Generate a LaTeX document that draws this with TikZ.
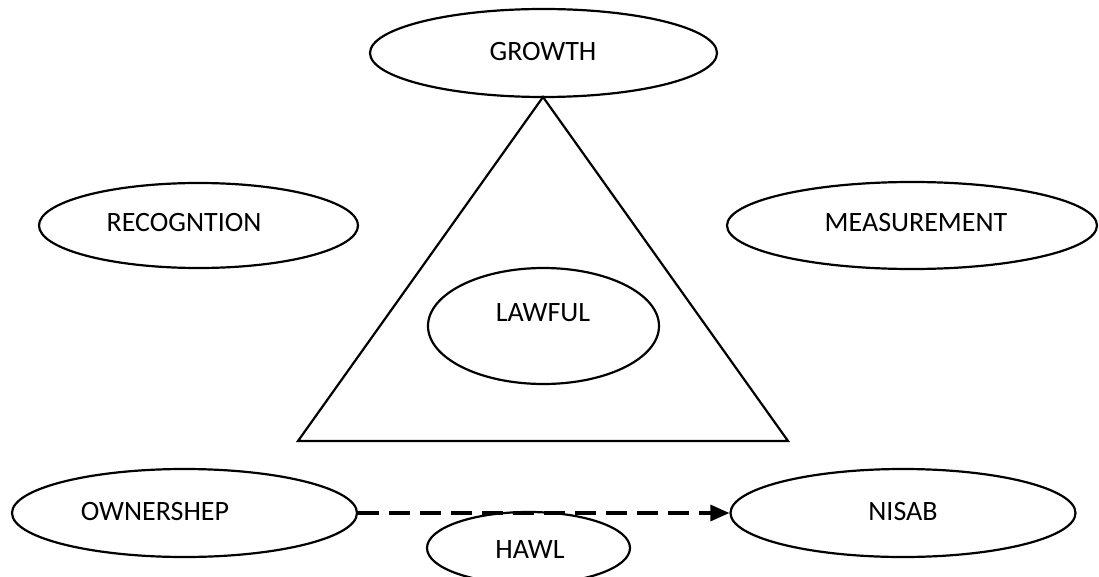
\documentclass[tikz,border=0pt]{standalone}
\usepackage{fontspec}
\setmainfont{Carlito}
\usetikzlibrary{shapes.geometric,arrows.meta}
\tikzset{
  oval/.style={draw=black, line width=2.2pt, ellipse, inner sep=0pt},
  lbl/.style={inner sep=0pt, font=\fontsize{28}{32}\selectfont, text=black},
  tri/.style={draw=black, line width=2.2pt, line join=miter},
  dasharrow/.style={draw=black, line width=3.2pt, dash pattern=on 21pt off 10pt, -{Triangle[length=19pt,width=16pt]}}
}
\begin{document}
\begin{tikzpicture}[x=1pt,y=-1pt]
\clip (0,0) rectangle (1099,577);
\fill[white] (0,0) rectangle (1099,577);
% triangle
\coordinate (apex) at (543,97);
\coordinate (bl) at (298,441);
\coordinate (br) at (788,441);
\draw[tri] (apex) -- (bl) -- (br) -- cycle;
% ellipses
\node[oval, minimum width=347pt, minimum height=88pt] (growth) at (543.5,53) {};
\node[lbl] (growthT) at (543,52) {GROWTH};
\node[oval, minimum width=319pt, minimum height=85pt] (recog) at (198.5,225.5) {};
\node[lbl] (recogT) at (184,223) {RECOGNTION};
\node[oval, minimum width=370pt, minimum height=87pt] (meas) at (912,225.5) {};
\node[lbl] (measT) at (916,223) {MEASUREMENT};
\node[oval, minimum width=231pt, minimum height=116pt] (lawful) at (543.5,326) {};
\node[lbl] (lawfulT) at (543,313) {LAWFUL};
\node[oval, minimum width=345pt, minimum height=88pt] (own) at (184.5,513) {};
\node[lbl] (ownT) at (155,512) {OWNERSHEP};
\node[oval, minimum width=345pt, minimum height=88pt] (nisab) at (903,513) {};
\node[lbl] (nisabT) at (903,512) {NISAB};
\node[oval, minimum width=203pt, minimum height=72pt] (hawl) at (528.5,548) {};
\node[lbl] (hawlT) at (530,550) {HAWL};
% arrow
\draw[dasharrow] (own.east) -- (nisab.west);
\end{tikzpicture}
\end{document}
